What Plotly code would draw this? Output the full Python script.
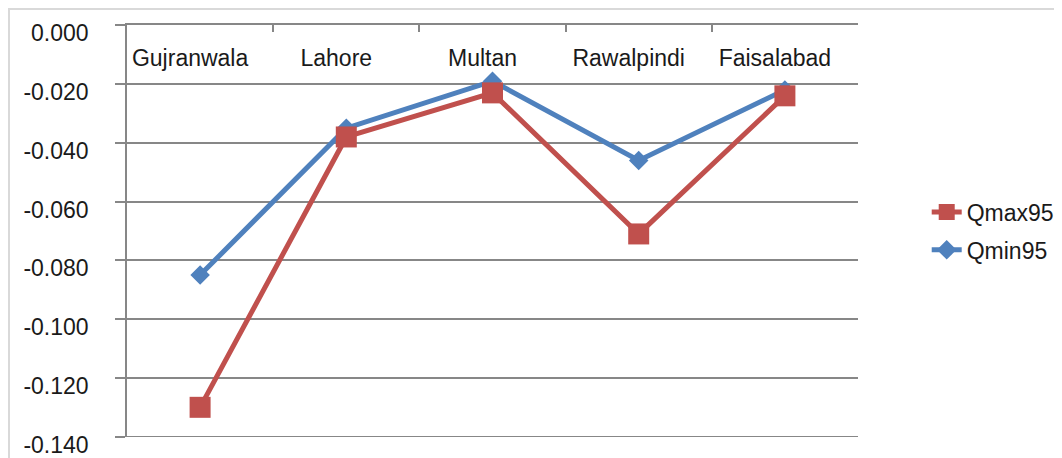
import plotly.graph_objects as go

cities = ["Gujranwala", "Lahore", "Multan", "Rawalpindi", "Faisalabad"]
qmax95 = [-0.130, -0.038, -0.023, -0.071, -0.024]
qmin95 = [-0.085, -0.035, -0.019, -0.046, -0.022]
y_ticks = [0.0, -0.02, -0.04, -0.06, -0.08, -0.10, -0.12, -0.14]
y_tick_text = ["0.000", "-0.020", "-0.040", "-0.060", "-0.080", "-0.100", "-0.120", "-0.140"]

RED = "#C0504D"
BLUE = "#4F81BD"
GRID = "#878787"
FONT = "Liberation Sans"
TXT = "#1a1a1a"
FS = 23

# page body has an 8px offset; plot area target: x 127..858, y 25..437 on screen
L, T = 119, 17
R, B = 1062 - 850, 458 - 429
PW, PH = 850 - L, 429 - T

fig = go.Figure()
fig.add_trace(go.Scatter(
    x=cities, y=qmin95, name="Qmin95", mode="lines+markers",
    line=dict(color=BLUE, width=5),
    marker=dict(symbol="diamond", size=15, color=BLUE),
    legendgroup="b", legendrank=2,
))
fig.add_trace(go.Scatter(
    x=cities, y=qmax95, name="Qmax95", mode="lines+markers",
    line=dict(color=RED, width=5),
    marker=dict(symbol="square", size=21, color=RED),
    legendgroup="a", legendrank=1,
))
# invisible helper trace carrying the boundary tick marks axis
fig.add_trace(go.Scatter(
    x=cities, y=qmax95, xaxis="x2", mode="lines", opacity=0,
    showlegend=False, hoverinfo="skip",
))

fig.update_layout(
    width=1062, height=458,
    margin=dict(l=L, r=R, t=T, b=B, autoexpand=False),
    paper_bgcolor="white", plot_bgcolor="white",
    font=dict(family=FONT, size=FS, color=TXT),
    showlegend=True,
    legend=dict(
        x=1.094, y=0.5, xanchor="left", yanchor="middle",
        traceorder="grouped", tracegroupgap=5,
        font=dict(family=FONT, size=FS, color=TXT),
        bgcolor="rgba(0,0,0,0)",
    ),
    xaxis=dict(
        type="category", categoryarray=cities, range=[-0.5, 4.5],
        side="top", ticks="", showgrid=False, automargin=False,
        showline=True, linecolor=GRID, linewidth=1.5,
        ticklabelstandoff=-52, ticklabelshift=-10,
        tickfont=dict(family=FONT, size=FS, color=TXT),
    ),
    xaxis2=dict(
        type="category", categoryarray=cities, range=[-0.5, 4.5],
        overlaying="x", side="top", matches="x", automargin=False,
        showticklabels=False, showgrid=False, showline=False,
        ticks="inside", tickson="boundaries", ticklen=7,
        tickcolor=GRID, tickwidth=1.5,
    ),
    yaxis=dict(
        range=[-0.1401, 0.0001], tickmode="array", tickvals=y_ticks, ticktext=y_tick_text,
        showgrid=True, gridcolor=GRID, gridwidth=1.5, zeroline=False,
        showline=True, linecolor=GRID, linewidth=1.5, automargin=False,
        ticks="outside", ticklen=10, tickcolor=GRID, tickwidth=1.5,
        ticklabelstandoff=22, ticklabelshift=8, ticklabeloverflow="allow",
        tickfont=dict(family=FONT, size=FS, color=TXT),
    ),
    shapes=[
        dict(
            type="rect", xref="paper", yref="paper",
            x0=(1 - L) / PW, x1=1.4, y0=-0.3, y1=(429 - 1) / PH,
            line=dict(color="#D9D9D9", width=2), fillcolor="rgba(0,0,0,0)",
            layer="below",
        ),
        dict(
            type="line", xref="paper", yref="y",
            x0=0, x1=1, y0=y_ticks[-1], y1=y_ticks[-1],
            line=dict(color=GRID, width=1.5), layer="below",
        ),
    ],
)

fig.write_html("out.html")
